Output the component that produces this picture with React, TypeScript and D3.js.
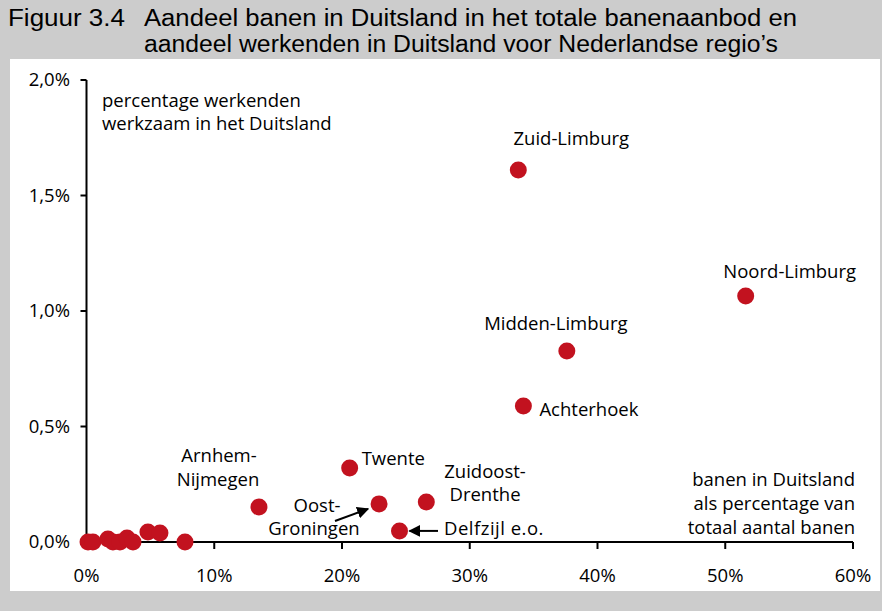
import React from "react";
import * as d3 from "d3";

const W = 882;
const H = 611;

// Regions: x = % jobs in Germany of total jobs, y = % workers working in Germany
const regionNames = [
  "Zuid-Limburg",
  "Noord-Limburg",
  "Midden-Limburg",
  "Achterhoek",
  "Twente",
  "Arnhem-Nijmegen",
  "Oost-Groningen",
  "Zuidoost-Drenthe",
  "Delfzijl e.o.",
];
const regionX = [33.8, 51.6, 37.6, 34.2, 20.6, 13.5, 22.9, 26.6, 24.5];
const regionY = [1.61, 1.065, 0.827, 0.589, 0.32, 0.152, 0.165, 0.173, 0.048];

// Unlabelled regions near the origin
const otherX = [0.12, 0.5, 1.68, 2.07, 2.62, 3.17, 3.64, 4.81, 5.75, 7.71];
const otherY = [0.0, 0.0, 0.013, 0.0, 0.0, 0.017, 0.0, 0.043, 0.039, 0.0];

const xTicks = [0, 10, 20, 30, 40, 50, 60];
const yTicks = [0, 0.5, 1.0, 1.5, 2.0];
const xTickLabels = ["0%", "10%", "20%", "30%", "40%", "50%", "60%"];
const yTickLabels = ["0,0%", "0,5%", "1,0%", "1,5%", "2,0%"];

const titleLines = [
  "Aandeel banen in Duitsland in het totale banenaanbod en",
  "aandeel werkenden in Duitsland voor Nederlandse regio\u2019s",
];
const titleWidths = [653, 634];
const yAxisTitle = ["percentage werkenden", "werkzaam in het Duitsland"];
const xAxisTitle = ["banen in Duitsland", "als percentage van", "totaal aantal banen"];

const RED = "#c2121f";
const GRAY = "#cccccc";
const FONT = "'Open Sans', 'Noto Sans', sans-serif";
const TITLE_FONT = "'Liberation Sans', Arial, sans-serif";

export default function App() {
  const x = d3.scaleLinear().domain([0, 60]).range([86.5, 853]);
  const y = d3.scaleLinear().domain([0, 2]).range([542, 80]);
  const fs = 18.5;

  const pts = regionX.map((v, i) => ({ x: x(v), y: y(regionY[i]) }));
  const P = (name: string) => pts[regionNames.indexOf(name)];

  return (
    <svg
      width={W}
      height={H}
      style={{ position: "absolute", left: 0, top: 0, display: "block" }}
      fontFamily={FONT}
    >
      <defs>
        <marker id="arr" viewBox="0 0 10 10" refX="9" refY="5" markerWidth="6" markerHeight="6" orient="auto-start-reverse">
          <path d="M0,0 L10,5 L0,10 z" fill="#000" />
        </marker>
      </defs>
      <rect x={0} y={0} width={W} height={H} fill={GRAY} />
      <rect x={10} y={59} width={870} height={532} fill="#fff" />

      {/* Title */}
      <text x={8} y={26} fontSize={23} fontFamily={TITLE_FONT} textLength={117} lengthAdjust="spacingAndGlyphs" fill="#000">Figuur 3.4</text>
      {titleLines.map((t, i) => (
        <text
          key={i}
          x={144}
          y={26 + i * 26}
          fontSize={23}
          fontFamily={TITLE_FONT}
          textLength={titleWidths[i]}
          lengthAdjust="spacingAndGlyphs"
          fill="#000"
        >
          {t}
        </text>
      ))}

      {/* Axes */}
      <line x1={x(0)} x2={x(0)} y1={y(2)} y2={y(0)} stroke="#000" strokeWidth={2} />
      <line x1={x(0)} x2={x(60)} y1={y(0)} y2={y(0)} stroke="#000" strokeWidth={2} />
      {yTicks.map((t, i) => (
        <g key={"y" + i}>
          <line x1={x(0) - 6} x2={x(0)} y1={y(t)} y2={y(t)} stroke="#000" strokeWidth={2} />
          <text x={70} y={y(t)} dy="0.35em" textAnchor="end" fontSize={fs}>{yTickLabels[i]}</text>
        </g>
      ))}
      {xTicks.map((t, i) => (
        <g key={"x" + i}>
          <line x1={x(t)} x2={x(t)} y1={y(0)} y2={y(0) + 7} stroke="#000" strokeWidth={2} />
          <text x={x(t)} y={582} textAnchor="middle" fontSize={fs}>{xTickLabels[i]}</text>
        </g>
      ))}

      {/* Axis titles */}
      {yAxisTitle.map((t, i) => (
        <text key={"yt" + i} x={102} y={107 + i * 23} fontSize={fs}>{t}</text>
      ))}
      {xAxisTitle.map((t, i) => (
        <text key={"xt" + i} x={855} y={486 + i * 24} textAnchor="end" fontSize={fs}>{t}</text>
      ))}

      {/* Points */}
      {otherX.map((v, i) => (
        <circle key={"o" + i} cx={x(v)} cy={y(otherY[i])} r={8.5} fill={RED} />
      ))}
      {pts.map((p, i) => (
        <circle key={"p" + i} cx={p.x} cy={p.y} r={8.5} fill={RED} />
      ))}

      {/* Labels */}
      <text x={P("Zuid-Limburg").x + 53} y={P("Zuid-Limburg").y - 25} textAnchor="middle" fontSize={fs}>Zuid-Limburg</text>
      <text x={P("Noord-Limburg").x + 44} y={P("Noord-Limburg").y - 18} textAnchor="middle" fontSize={fs}>Noord-Limburg</text>
      <text x={P("Midden-Limburg").x - 11} y={P("Midden-Limburg").y - 21} textAnchor="middle" fontSize={fs}>Midden-Limburg</text>
      <text x={P("Achterhoek").x + 16} y={P("Achterhoek").y + 10} fontSize={fs}>Achterhoek</text>
      <text x={P("Twente").x + 12} y={P("Twente").y - 3} fontSize={fs}>Twente</text>
      <text x={219} y={462} textAnchor="middle" fontSize={fs}>Arnhem-</text>
      <text x={218} y={486} textAnchor="middle" fontSize={fs}>Nijmegen</text>
      <text x={485} y={478} textAnchor="middle" fontSize={fs}>Zuidoost-</text>
      <text x={485} y={501} textAnchor="middle" fontSize={fs}>Drenthe</text>
      <text x={317} y={512} textAnchor="middle" fontSize={fs}>Oost-</text>
      <text x={314} y={535} textAnchor="middle" fontSize={fs}>Groningen</text>
      <text x={444} y={535} fontSize={fs} letterSpacing={0.5}>Delfzijl e.o.</text>

      {/* Arrows */}
      <line
        x1={335}
        y1={521}
        x2={P("Oost-Groningen").x - 11}
        y2={P("Oost-Groningen").y + 5}
        stroke="#000"
        strokeWidth={2}
        markerEnd="url(#arr)"
      />
      <line
        x1={438}
        y1={P("Delfzijl e.o.").y}
        x2={P("Delfzijl e.o.").x + 10}
        y2={P("Delfzijl e.o.").y}
        stroke="#000"
        strokeWidth={2}
        markerEnd="url(#arr)"
      />
    </svg>
  );
}
